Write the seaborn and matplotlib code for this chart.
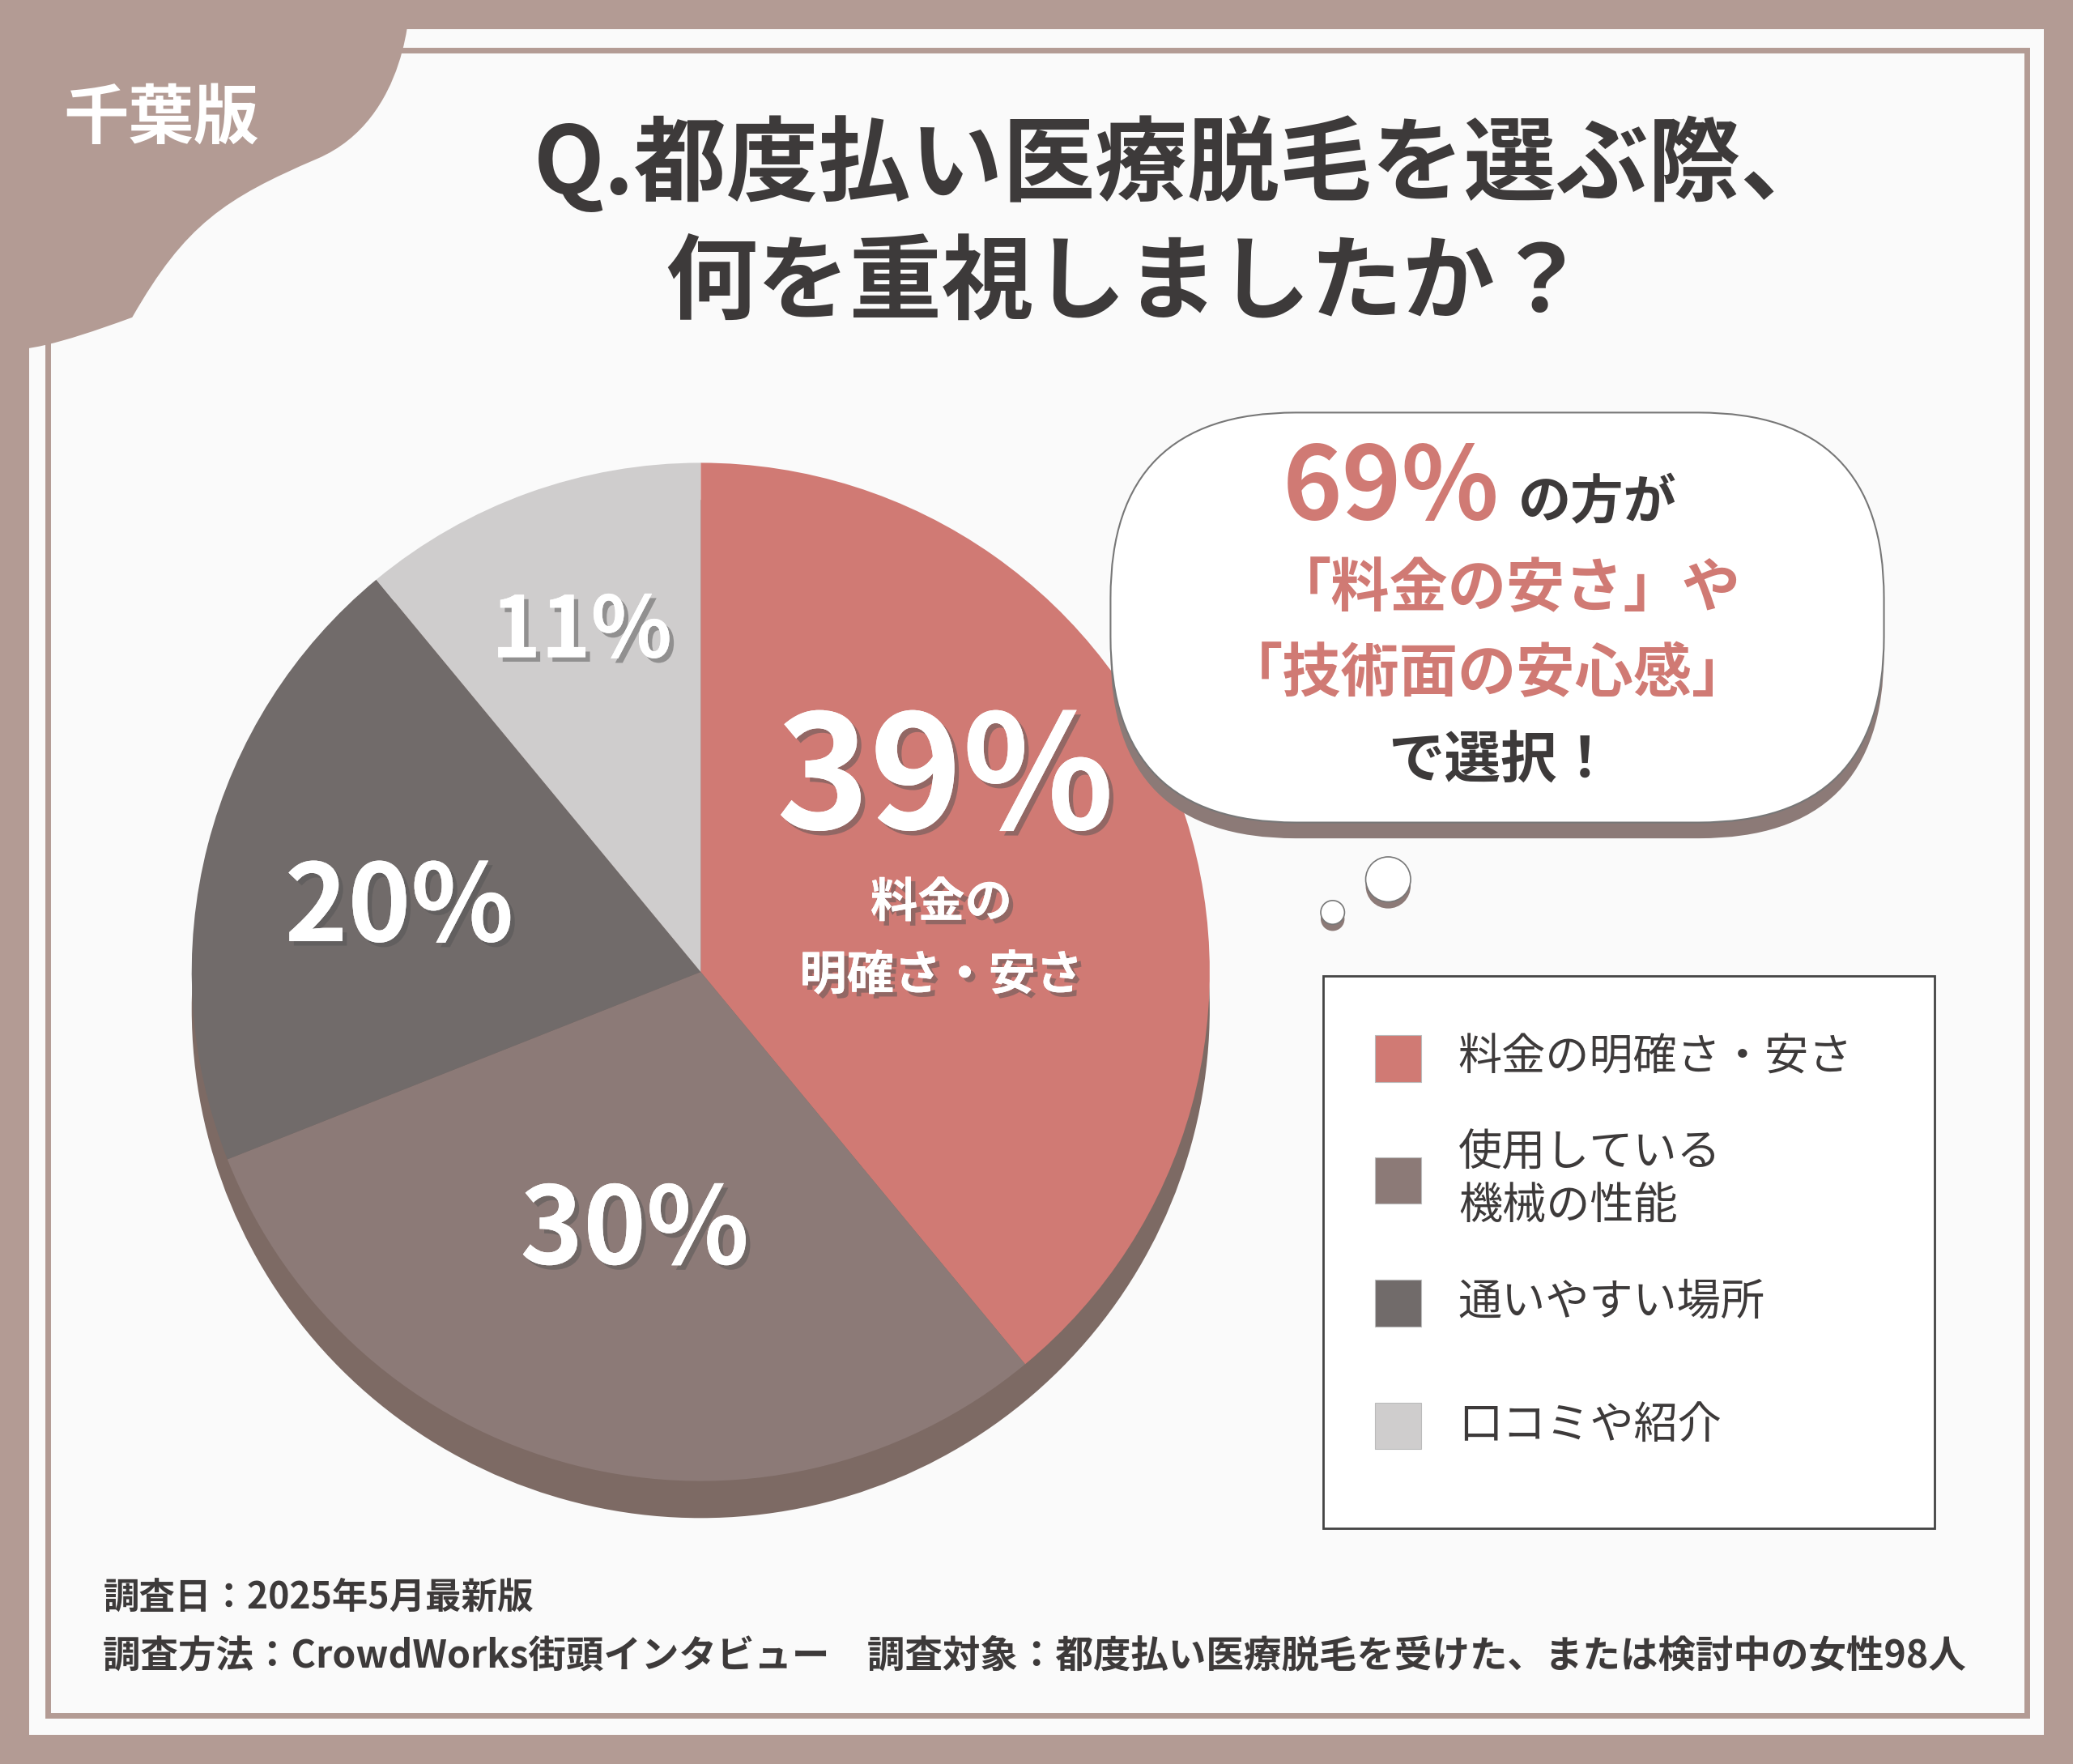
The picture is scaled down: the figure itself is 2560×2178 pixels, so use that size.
import matplotlib
matplotlib.use('Agg')
import matplotlib.pyplot as plt
import matplotlib.patches as mpatches
import matplotlib.patheffects as pe
from matplotlib.path import Path
import seaborn as sns

sns.set_theme(style='white', font='Noto Sans CJK JP')

# data
categories = ['料金の明確さ・安さ', '使用している\n機械の性能', '通いやすい場所', '口コミや紹介']
shares = [39, 30, 20, 11]
colors = ['#d07a74', '#8c7a77', '#716b6a', '#cfcdcd']
pct_labels = ['39%', '30%', '20%', '11%']

W, H = 1568, 1334
BG = '#b39b94'
DARK = '#3d3a3a'
RED = '#d07a74'

fig = plt.figure(figsize=(25.6, 21.78), dpi=100)
fig.patch.set_facecolor(BG)
ax = fig.add_axes([0, 0, 1, 1])

# white panel + inner frame
ax.add_patch(mpatches.Rectangle((22, 22), 1524, 1290, fc='#fafafa', ec='none', zorder=0))
ax.add_patch(mpatches.Rectangle((36, 38), 1497, 1259, fc='none', ec=BG, lw=5, zorder=1))

# corner tag (smooth curve)
verts = [(0, 0), (310, 0), (310, 0), (310, 90), (240, 120), (170, 150),
         (140, 170), (100, 240), (40, 262), (20, 265), (0, 265), (0, 0)]
codes = [Path.MOVETO, Path.LINETO, Path.CURVE4, Path.CURVE4, Path.CURVE4, Path.CURVE4,
         Path.CURVE4, Path.CURVE4, Path.CURVE4, Path.LINETO, Path.LINETO, Path.CLOSEPOLY]
ax.add_patch(mpatches.PathPatch(Path(verts, codes), fc=BG, ec='none', zorder=2))
ax.text(122, 90, '千葉版', color='white', fontsize=58, fontweight='bold', ha='center', va='center', zorder=3)

# title
ax.text(895, 125, 'Q.都度払い医療脱毛を選ぶ際、', color=DARK, fontsize=82, fontweight='bold',
        ha='center', va='center')
ax.text(852, 215, '何を重視しましたか？', color=DARK, fontsize=82, fontweight='bold',
        ha='center', va='center')

# pie shadow + pie
cx, cy, r = 530, 735, 385
ax.add_patch(mpatches.Circle((cx, cy + 28), r, fc='#7d6a64', ec='none', zorder=2))
ax.pie(shares, colors=colors, center=(cx, cy), radius=r, startangle=-90, counterclock=True,
       wedgeprops=dict(linewidth=0, zorder=3), frame=True)
ax.set_xlim(0, W)
ax.set_ylim(H, 0)
ax.set_aspect('equal')
ax.axis('off')

shadow = [pe.withSimplePatchShadow(offset=(4, -4), shadow_rgbFace='#555555', alpha=0.5), pe.Normal()]
pct_pos = [(715, 592, 140), (480, 932, 95), (302, 688, 95), (440, 478, 75)]
for lab, (x, y, fs) in zip(pct_labels, pct_pos):
    ax.text(x, y, lab, color='white', fontsize=fs, fontweight='bold', ha='center', va='center',
            path_effects=shadow, zorder=5)
ax.text(712, 683, '料金の', color='white', fontsize=42, fontweight='bold', ha='center', va='center',
        path_effects=shadow, zorder=5)
ax.text(712, 738, '明確さ・安さ', color='white', fontsize=42, fontweight='bold', ha='center', va='center',
        path_effects=shadow, zorder=5)

# speech bubble
for dy, fc, ec in [(12, '#8c7a77', 'none'), (0, 'white', '#777777')]:
    ax.add_patch(mpatches.FancyBboxPatch((840, 312 + dy), 585, 310, boxstyle='round,pad=0,rounding_size=140',
                                         fc=fc, ec=ec, lw=1.5, zorder=3))
for (x, y, rr) in [(1050, 665, 17), (1008, 690, 9)]:
    ax.add_patch(mpatches.Circle((x, y + 5), rr, fc='#8c7a77', ec='none', zorder=3))
    ax.add_patch(mpatches.Circle((x, y), rr, fc='white', ec='#777777', lw=1.2, zorder=4))
ax.text(1052, 370, '69%', color=RED, fontsize=90, fontweight='bold', ha='center', va='center', zorder=5)
ax.text(1208, 380, 'の方が', color=DARK, fontsize=47, fontweight='bold', ha='center', va='center', zorder=5)
ax.text(1140, 446, '「料金の安さ」や', color=RED, fontsize=52, fontweight='bold', ha='center', va='center', zorder=5)
ax.text(1125, 510, '「技術面の安心感」', color=RED, fontsize=52, fontweight='bold', ha='center', va='center', zorder=5)
ax.text(1135, 576, 'で選択！', color=DARK, fontsize=50, fontweight='bold', ha='center', va='center', zorder=5)

# legend
ax.add_patch(mpatches.Rectangle((1001, 738), 462, 418, fc='white', ec='#444444', lw=2, zorder=3))
leg_y = [800, 892, 985, 1078]
for cat, c, y in zip(categories, colors, leg_y):
    ax.add_patch(mpatches.Rectangle((1040, y - 17), 35, 35, fc=c, ec='#bbbbbb', lw=0.8, zorder=4))
    ax.text(1103, y, cat, color=DARK, fontsize=39, ha='left', va='center', linespacing=1.25, zorder=5)

# footer
ax.text(78, 1208, '調査日：2025年5月最新版', color=DARK, fontsize=32, fontweight='bold', va='center')
ax.text(78, 1252, '調査方法：CrowdWorks街頭インタビュー　調査対象：都度払い医療脱毛を受けた、または検討中の女性98人',
        color=DARK, fontsize=33.5, fontweight='bold', va='center')

fig.savefig('out.png', dpi=100, facecolor=fig.get_facecolor())
